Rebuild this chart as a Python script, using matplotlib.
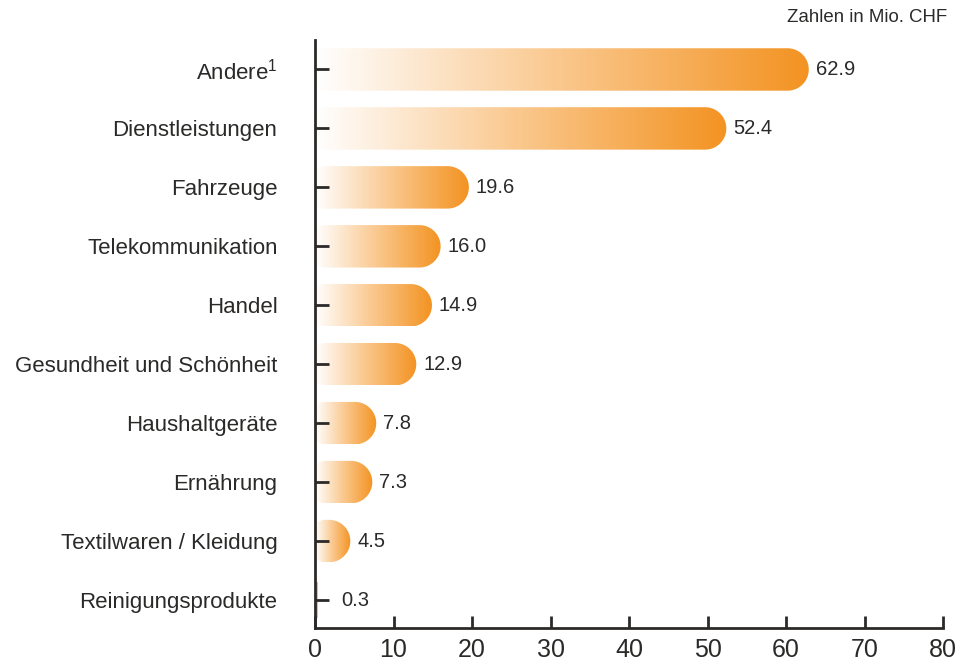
import numpy as np
import matplotlib
matplotlib.use("Agg")
import matplotlib.pyplot as plt
from matplotlib.path import Path
from matplotlib.patches import PathPatch, Rectangle
from matplotlib.colors import LinearSegmentedColormap

categories = ["Reinigungsprodukte", "Textilwaren / Kleidung", "Ernährung", "Haushaltgeräte",
              "Gesundheit und Schönheit", "Handel", "Telekommunikation", "Fahrzeuge",
              "Dienstleistungen", "Andere$^\\mathregular{1}$"]
values = [0.3, 4.5, 7.3, 7.8, 12.9, 14.9, 16.0, 19.6, 52.4, 62.9]
value_labels = ["0.3", "4.5", "7.3", "7.8", "12.9", "14.9", "16.0", "19.6", "52.4", "62.9"]
x_ticks = [0, 10, 20, 30, 40, 50, 60, 70, 80]

plt.rcParams['font.family'] = ['Liberation Sans', 'DejaVu Sans']
plt.rcParams['mathtext.default'] = 'regular'

TEXT = "#2b2a29"
ORANGE = "#f39322"
cmap = LinearSegmentedColormap.from_list("fade", [(0, "#ffffff"), (0.5, "#fac78c"), (1, ORANGE)])

W, H = 964, 664
fig = plt.figure(figsize=(W / 100, H / 100), dpi=100)
left, right, bottom, top = 315, 943, 628, 40
ax = fig.add_axes([left / W, 1 - bottom / H, (right - left) / W, (bottom - top) / H])

xmin, xmax = 0, 80
ymin, ymax = -0.475, 9.5
ax.set_xlim(xmin, xmax)
ax.set_ylim(ymin, ymax)

px_x = (right - left) / (xmax - xmin)
px_y = (bottom - top) / (ymax - ymin)

bar_h = 0.72
rx = (bar_h / 2 * px_y) / px_x   # half-height radius in x units
ry = bar_h / 2
rlx, rly = rx * 0.45, ry * 0.45  # small radius on the left corners


def bar_path(i, v):
    y0, y1 = i - ry, i + ry
    # right end: full half circle
    t = np.linspace(-np.pi / 2, np.pi / 2, 40)
    right_arc = np.column_stack([v - rx + rx * np.cos(t), i + ry * np.sin(t)])
    # left corners: quarter circles
    t2 = np.linspace(np.pi / 2, np.pi, 15)
    tl = np.column_stack([rlx + rlx * np.cos(t2), y1 - rly + rly * np.sin(t2)])
    t3 = np.linspace(np.pi, 1.5 * np.pi, 15)
    bl = np.column_stack([rlx + rlx * np.cos(t3), y0 + rly + rly * np.sin(t3)])
    verts = np.vstack([right_arc, tl, bl, right_arc[:1]])
    codes = [Path.MOVETO] + [Path.LINETO] * (len(verts) - 2) + [Path.CLOSEPOLY]
    return Path(verts, codes)


for i, v in enumerate(values):
    y0, y1 = i - ry, i + ry
    if v > rx:
        patch = PathPatch(bar_path(i, v), facecolor="none", edgecolor="none")
        ax.add_patch(patch)
        grad = np.linspace(0, 1, 256).reshape(1, -1)
        im = ax.imshow(grad, cmap=cmap, extent=[0, v, y0, y1], aspect="auto",
                       interpolation="bilinear", zorder=1)
        im.set_clip_path(patch)
    else:
        # a sliver this thin just shows as a light orange line next to the axis
        ax.add_patch(Rectangle((0, y0 + 0.05), max(v, 0.35), bar_h - 0.1,
                               facecolor="#f6b774", edgecolor="none", zorder=1))
    ax.text(max(v, 2.4) + 7 / px_x, i, value_labels[i], va="center", ha="left",
            fontsize=14.5, color=TEXT)

ax.set_xlim(xmin, xmax)
ax.set_ylim(ymin, ymax)

ax.set_yticks(range(len(categories)))
ax.set_yticklabels(categories, fontsize=16, color=TEXT)
ax.set_xticks(x_ticks)
ax.set_xticklabels([str(t) for t in x_ticks], fontsize=18, color=TEXT)

ax.tick_params(axis="y", direction="in", length=10, width=2, color=TEXT, pad=27)
ax.tick_params(axis="x", direction="in", length=9, width=2, color=TEXT, pad=7)

for s in ["top", "right"]:
    ax.spines[s].set_visible(False)
for s in ["left", "bottom"]:
    ax.spines[s].set_linewidth(2)
    ax.spines[s].set_color(TEXT)
    ax.spines[s].set_zorder(5)

fig.text(947 / W, 1 - 18 / H, "Zahlen in Mio. CHF", ha="right", va="center", fontsize=13.4, color=TEXT)

fig.savefig("out.png", dpi=100)
